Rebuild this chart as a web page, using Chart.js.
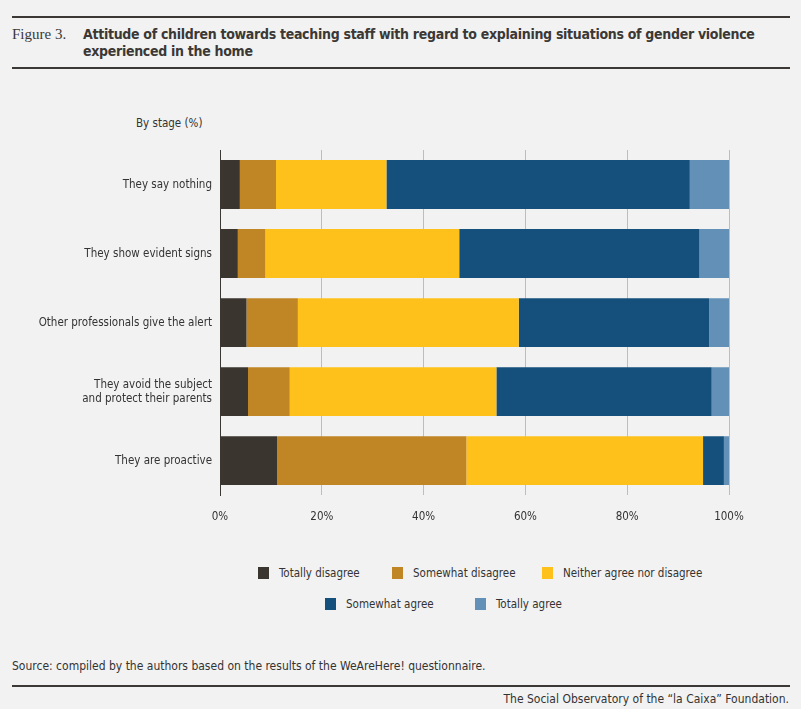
<!DOCTYPE html>
<html>
<head>
<meta charset="utf-8">
<script src="https://cdn.jsdelivr.net/npm/chart.js@4/dist/chart.umd.min.js"></script>
<style>
  html, body { margin: 0; padding: 0; }
  body {
    width: 801px; height: 709px; background: #f2f2f2; position: relative; overflow: hidden;
    font-family: "DejaVu Sans Condensed", sans-serif; color: #333;
  }
  .rule { position: absolute; left: 12px; width: 778px; height: 2px; background: #3b3835; }
  #figno { position: absolute; left: 12px; top: 26px; font-family: "Liberation Serif", serif; font-size: 15px; color: #3b3835; }
  #title { position: absolute; left: 83px; top: 26px; width: 710px; font-weight: bold; font-size: 14px; letter-spacing: -0.3px; line-height: 17px; color: #3b3835; white-space: nowrap; }
  #sub { position: absolute; left: 136px; top: 116px; font-size: 11.5px; }
  #wrap { position: absolute; left: 0; top: 140px; width: 801px; height: 400px; }
  #legend { position: absolute; left: 0; top: 0; font-size: 11.5px; }
  .item { position: absolute; display: flex; align-items: center; height: 16px; white-space: nowrap; }
  .item i { display: inline-block; width: 11px; height: 12px; margin-right: 10px; }
  #source { position: absolute; left: 12px; top: 659px; font-size: 12px; }
  #credit { position: absolute; right: 12px; top: 692px; font-size: 12px; }
</style>
</head>
<body>
<div class="rule" style="top:16px"></div>
<div id="figno">Figure 3.</div>
<div id="title">Attitude of children towards teaching staff with regard to explaining situations of gender violence<br>experienced in the home</div>
<div class="rule" style="top:67px"></div>
<div id="sub">By stage (%)</div>
<div id="wrap"><canvas id="myChart"></canvas></div>
<div id="legend"></div>
<div id="source">Source: compiled by the authors based on the results of the WeAreHere! questionnaire.</div>
<div class="rule" style="top:685px"></div>
<div id="credit">The Social Observatory of the “la Caixa” Foundation.</div>

<script>
const stages = [
  "They say nothing",
  "They show evident signs",
  "Other professionals give the alert",
  ["They avoid the subject", "and protect their parents"],
  "They are proactive"
];
const answers = ["Totally disagree", "Somewhat disagree", "Neither agree nor disagree", "Somewhat agree", "Totally agree"];
const colors = ["#3a352f", "#c08626", "#fec11b", "#14507b", "#6290b6"];

const totallyDisagree = [3.9, 3.5, 5.2, 5.5, 11.2];
const somewhatDisagree = [7.1, 5.4, 10.1, 8.2, 37.2];
const neither = [21.7, 38.1, 43.4, 40.6, 46.5];
const somewhatAgree = [59.6, 47.2, 37.4, 42.3, 4.1];
const totallyAgree = [7.7, 5.8, 3.9, 3.4, 1.0];

const xTicks = [0, 20, 40, 60, 80, 100];

const series = [totallyDisagree, somewhatDisagree, neither, somewhatAgree, totallyAgree];
const font = "'DejaVu Sans Condensed', sans-serif";

const ctx = document.getElementById("myChart").getContext("2d");
const chart = new Chart(ctx, {
  type: "bar",
  data: {
    labels: stages,
    datasets: series.map((vals, i) => ({
      label: answers[i],
      data: vals,
      backgroundColor: colors[i],
      borderWidth: 0,
      barPercentage: 0.708,
      categoryPercentage: 1
    }))
  },
  options: {
    indexAxis: "y",
    responsive: true,
    maintainAspectRatio: false,
    animation: false,
    layout: { padding: { top: 10, right: 72, bottom: 1, left: 0 } },
    plugins: { legend: { display: false }, tooltip: { enabled: false } },
    scales: {
      x: {
        stacked: true,
        min: 0, max: 100,
        afterBuildTicks: (scale) => { scale.ticks = xTicks.map(v => ({ value: v })); },
        grid: { color: "#bdbdbd", lineWidth: 1, drawTicks: false },
        border: { display: false },
        ticks: { padding: 15, color: "#333", font: { family: font, size: 11.5 }, callback: v => v + "%" }
      },
      y: {
        stacked: true,
        afterFit: (scale) => {
          scale.width = 220;
          scale.paddingTop = 0;
          scale.paddingBottom = 0;
        },
        grid: { display: false, drawTicks: false },
        border: { display: true, color: "#3b3835", width: 1 },
        ticks: { padding: 8, color: "#333", font: { family: font, size: 11.5 } }
      }
    }
  }
});

// legend placed like the figure: three items on the first row, two on the second
const legendPos = [[258, 573], [392, 573], [542, 573], [325, 604], [475, 604]];
const legend = document.getElementById("legend");
answers.forEach((name, i) => {
  const s = document.createElement("span");
  s.className = "item";
  s.style.left = legendPos[i][0] + "px";
  s.style.top = (legendPos[i][1] - 8) + "px";
  s.innerHTML = '<i style="background:' + colors[i] + '"></i>' + name;
  legend.appendChild(s);
});
</script>
</body>
</html>
